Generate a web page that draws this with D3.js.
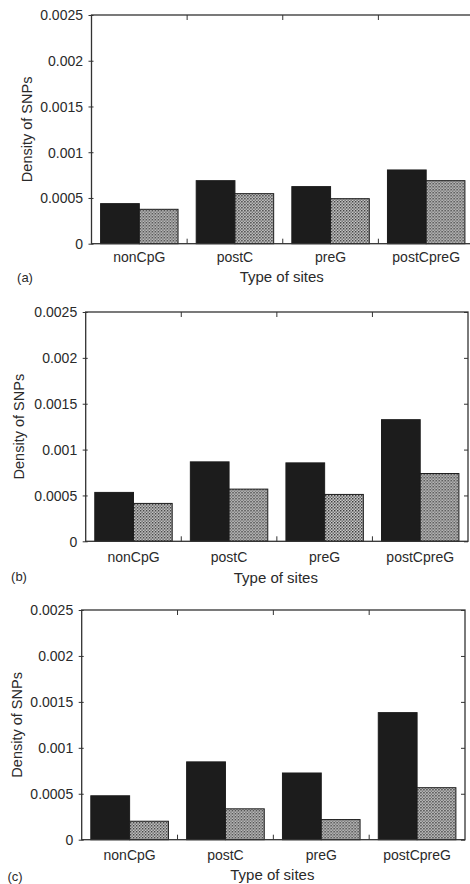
<!DOCTYPE html>
<html>
<head>
<meta charset="utf-8">
<script src="https://cdn.jsdelivr.net/npm/d3@7"></script>
<style>
  html, body { margin: 0; padding: 0; background: #fff; overflow: hidden; }
  svg text { font-family: "Liberation Sans", Arial, Helvetica, sans-serif; fill: #2a2a2a; }
</style>
</head>
<body>
<svg id="chart" width="470" height="884"></svg>
<script>
// ---- data ----
const categories = ["nonCpG", "postC", "preG", "postCpreG"];
const seriesNames = ["solid", "hatched"];
const yTicks = [0, 0.0005, 0.001, 0.0015, 0.002, 0.0025];
const yTickLabels = ["0", "0.0005", "0.001", "0.0015", "0.002", "0.0025"];
const panelLabels = ["(a)", "(b)", "(c)"];
const xTitle = "Type of sites";
const yTitle = "Density of SNPs";

const aSolid   = [0.000438, 0.000689, 0.000624, 0.000806];
const aHatched = [0.000376, 0.000547, 0.000492, 0.000689];
const bSolid   = [0.000533, 0.000866, 0.000855, 0.001326];
const bHatched = [0.000413, 0.000569, 0.000511, 0.000739];
const cSolid   = [0.000478, 0.000847, 0.000726, 0.001383];
const cHatched = [0.000201, 0.000336, 0.000219, 0.000566];

const panelData = [[aSolid, aHatched], [bSolid, bHatched], [cSolid, cHatched]];

// ---- layout (per panel box) ----
const boxes = [
  { left: 91.5, right: 474, top: 15,  bottom: 243.7, yt: 65, tl: 5.5, xl: 13.5, xt: 33.5, lx: 25, ly: 277.7 },
  { left: 85.7, right: 468, top: 312, bottom: 541.3, yt: 66.5, tl: 5.5, xl: 15.5, xt: 36.5, lx: 19, ly: 576.7 },
  { left: 81.7, right: 465, top: 610, bottom: 839.7, yt: 64.5, tl: 5.5, xl: 15, xt: 35.5, lx: 15, ly: 876.7 }
];

const svg = d3.select("#chart");

// hatch pattern
const defs = svg.append("defs");
const pat = defs.append("pattern")
  .attr("id", "hatch").attr("patternUnits", "userSpaceOnUse")
  .attr("width", 3).attr("height", 3);
pat.append("rect").attr("width", 3).attr("height", 3).attr("fill", "#cfcfcf");
pat.append("rect").attr("x", 0).attr("y", 0).attr("width", 1.5).attr("height", 1.5).attr("fill", "#3a3a3a");
pat.append("rect").attr("x", 1.5).attr("y", 1.5).attr("width", 1.5).attr("height", 1.5).attr("fill", "#6a6a6a");

const fills = ["#1c1c1c", "url(#hatch)"];
const frameColor = "#333";

boxes.forEach((b, pi) => {
  const g = svg.append("g");
  const x = d3.scaleBand().domain(categories).range([b.left, b.right])
    .paddingInner(0.19).paddingOuter(0.095);
  const xs = d3.scaleBand().domain(seriesNames).range([0, x.bandwidth()]).padding(0);
  const y = d3.scaleLinear().domain([0, 0.0025]).range([b.bottom, b.top]);

  // bars
  const rows = categories.map((c, i) => ({ c, vals: seriesNames.map((s, si) => ({ s, si, v: panelData[pi][si][i] })) }));
  const grp = g.selectAll("g.grp").data(rows).enter().append("g")
    .attr("transform", d => `translate(${x(d.c)},0)`);
  grp.selectAll("rect").data(d => d.vals).enter().append("rect")
    .attr("x", d => xs(d.s))
    .attr("y", d => y(d.v))
    .attr("width", xs.bandwidth())
    .attr("height", d => y(0) - y(d.v))
    .attr("fill", d => fills[d.si])
    .attr("stroke", "#1c1c1c")
    .attr("stroke-width", 1);

  // frame
  g.append("rect")
    .attr("x", b.left).attr("y", b.top)
    .attr("width", b.right - b.left).attr("height", b.bottom - b.top)
    .attr("fill", "none").attr("stroke", frameColor).attr("stroke-width", 1.3);

  // left axis
  const yAxis = d3.axisLeft(y).tickValues(yTicks)
    .tickFormat((d, i) => yTickLabels[i]).tickSizeInner(-3).tickSizeOuter(0).tickPadding(b.tl + 3);
  const ya = g.append("g").attr("transform", `translate(${b.left},0)`).call(yAxis);
  ya.select(".domain").remove();
  ya.selectAll(".tick line").attr("stroke", frameColor).attr("x1", -3).attr("x2", 2);
  ya.selectAll(".tick text").attr("font-size", 14).attr("dy", "0.35em").style("fill", "#2a2a2a");

  // right ticks
  const yr = d3.axisRight(y).tickValues(yTicks).tickSize(-4).tickFormat("");
  const yra = g.append("g").attr("transform", `translate(${b.right},0)`).call(yr);
  yra.select(".domain").remove();
  yra.selectAll(".tick line").attr("stroke", frameColor);

  // x ticks at group boundaries (bottom & top, inward)
  const bounds = categories.slice(1).map(c => x(c) - x.step() * x.paddingInner() / 2);
  g.selectAll("line.xb").data(bounds).enter().append("line")
    .attr("x1", d => d).attr("x2", d => d)
    .attr("y1", b.bottom).attr("y2", b.bottom - 5)
    .attr("stroke", frameColor).attr("stroke-width", 1);
  g.selectAll("line.xt").data(bounds).enter().append("line")
    .attr("x1", d => d).attr("x2", d => d)
    .attr("y1", b.top).attr("y2", b.top + 5)
    .attr("stroke", frameColor).attr("stroke-width", 1);

  // category labels
  g.selectAll("text.cat").data(categories).enter().append("text")
    .attr("x", d => x(d) + x.bandwidth() / 2)
    .attr("y", b.bottom + b.xl)
    .attr("dy", "0.35em")
    .attr("text-anchor", "middle")
    .attr("font-size", 14)
    .text(d => d);

  // x title
  g.append("text")
    .attr("x", (b.left + b.right) / 2 - 1)
    .attr("y", b.bottom + b.xt)
    .attr("dy", "0.35em")
    .attr("text-anchor", "middle")
    .attr("font-size", 15)
    .text(xTitle);

  // y title
  g.append("text")
    .attr("transform", `translate(${b.left - b.yt},${(b.top + b.bottom) / 2}) rotate(-90)`)
    .attr("dy", "0.35em")
    .attr("text-anchor", "middle")
    .attr("font-size", 14.5)
    .text(yTitle);

  // panel label
  g.append("text")
    .attr("x", b.lx).attr("y", b.ly)
    .attr("dy", "0.35em")
    .attr("text-anchor", "middle")
    .attr("font-size", 13)
    .text(panelLabels[pi]);
});
</script>
</body>
</html>
